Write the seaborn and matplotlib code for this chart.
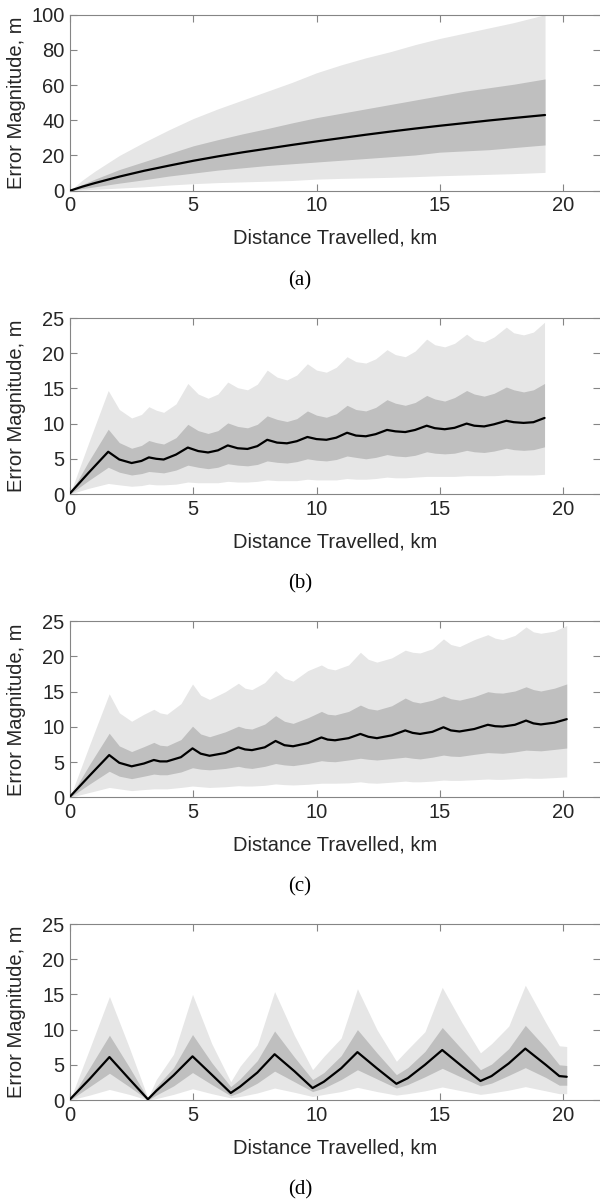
import numpy as np
import pandas as pd
import matplotlib
matplotlib.use("Agg")
import matplotlib.pyplot as plt
import seaborn as sns

# ---------------- data ----------------
# panel (a)
xa = [0, 0.5, 1, 2, 3, 4, 5, 6, 7, 8, 9, 10, 11, 12, 13, 14, 15, 16, 17, 18, 19.27]
a_mean = [0, 2.3, 4.3, 8.0, 11.3, 14.2, 17.0, 19.5, 21.8, 23.9, 26.0, 28.0, 29.9, 31.8, 33.6, 35.3, 36.9, 38.4, 39.9, 41.3, 43.0]
a_dark_hi = [0, 3.5, 6.5, 12.0, 16.5, 21.0, 25.5, 29.0, 32.3, 35.3, 38.5, 41.5, 44.0, 46.5, 49.0, 51.5, 54.0, 56.5, 58.5, 60.5, 63.5]
a_light_hi = [0, 6, 11, 20, 27.5, 34.5, 41, 46.5, 51.5, 56.5, 61.5, 67.0, 71.5, 75.5, 79, 83, 86.5, 89.5, 92.5, 95.5, 100]
a_dark_lo = [0, 1.2, 2.2, 4.3, 6.2, 8.3, 10.0, 11.7, 13.0, 14.3, 15.3, 16.3, 17.3, 18.3, 19.3, 20.3, 21.9, 22.6, 23.3, 24.5, 26.0]
a_light_lo = [0, 0.4, 0.8, 1.5, 2.2, 3.2, 4.0, 4.6, 5.0, 5.4, 5.8, 6.6, 7.0, 7.3, 7.6, 8.0, 8.5, 8.9, 9.3, 9.7, 10.4]

# panel (b)
xb = [0, 0.75, 1.55, 2.0, 2.5, 2.9, 3.2, 3.5, 3.8, 4.3, 4.78, 5.2, 5.6, 6.0, 6.4, 6.8, 7.2, 7.6,
      8.0, 8.4, 8.8, 9.2, 9.63, 10.0, 10.4, 10.8, 11.24, 11.6, 12.0, 12.4, 12.86, 13.2, 13.6, 14.0,
      14.47, 14.8, 15.2, 15.6, 16.09, 16.4, 16.8, 17.2, 17.7, 18.0, 18.4, 18.8, 19.25]
b_mean = [0.1, 3.0, 6.0, 4.9, 4.4, 4.7, 5.2, 5.0, 4.9, 5.6, 6.6, 6.1, 5.9, 6.2, 6.9, 6.5, 6.4, 6.8,
          7.7, 7.3, 7.2, 7.5, 8.1, 7.8, 7.7, 8.0, 8.7, 8.3, 8.2, 8.5, 9.1, 8.9, 8.8, 9.1,
          9.7, 9.35, 9.2, 9.4, 10.0, 9.7, 9.6, 9.9, 10.4, 10.2, 10.1, 10.2, 10.8]
b_light_hi = [0, 7.2, 14.7, 12.0, 10.8, 11.3, 12.4, 11.9, 11.6, 12.8, 15.7, 14.2, 13.6, 14.2, 15.9, 15.1, 14.8, 15.6,
              17.6, 16.6, 16.2, 16.9, 18.5, 17.6, 17.3, 18.0, 19.5, 18.8, 18.6, 19.2, 20.5, 19.8, 19.5, 20.3,
              22.0, 21.2, 20.9, 21.4, 22.7, 21.9, 21.6, 22.3, 23.7, 22.9, 22.6, 23.0, 24.4]
b_dark_hi = [0, 4.6, 9.2, 7.3, 6.5, 6.9, 7.6, 7.3, 7.1, 8.0, 9.9, 9.0, 8.6, 9.0, 10.1, 9.6, 9.4, 9.9,
             11.1, 10.6, 10.3, 10.7, 11.8, 11.2, 10.9, 11.4, 12.6, 12.0, 11.8, 12.3, 13.4, 12.9, 12.6, 13.0,
             14.0, 13.5, 13.2, 13.7, 14.7, 14.2, 13.9, 14.3, 15.2, 14.8, 14.5, 14.8, 15.7]
b_dark_lo = [0, 1.9, 3.8, 3.1, 2.7, 2.9, 3.2, 3.1, 3.0, 3.4, 4.1, 3.8, 3.6, 3.8, 4.3, 4.1, 4.0, 4.2,
             4.7, 4.5, 4.4, 4.6, 5.0, 4.8, 4.7, 4.9, 5.4, 5.2, 5.0, 5.2, 5.6, 5.4, 5.3, 5.5,
             6.0, 5.8, 5.7, 5.8, 6.2, 6.0, 5.9, 6.1, 6.5, 6.3, 6.2, 6.3, 6.7]
b_light_lo = [0, 0.8, 1.5, 1.3, 1.1, 1.2, 1.4, 1.3, 1.3, 1.4, 1.7, 1.6, 1.6, 1.6, 1.8, 1.7, 1.7, 1.8,
              2.0, 1.9, 1.9, 1.9, 2.1, 2.0, 2.0, 2.0, 2.2, 2.1, 2.1, 2.2, 2.4, 2.3, 2.3, 2.4,
              2.5, 2.5, 2.5, 2.5, 2.6, 2.6, 2.6, 2.6, 2.7, 2.7, 2.7, 2.7, 2.8]

# panel (c)
xc = [0, 0.8, 1.59, 2.0, 2.5, 3.0, 3.4, 3.65, 3.93, 4.5, 4.97, 5.3, 5.66, 6.3, 6.83, 7.1, 7.38, 7.9,
      8.34, 8.7, 9.05, 9.65, 10.2, 10.45, 10.75, 11.3, 11.78, 12.1, 12.45, 13.05, 13.6, 13.9, 14.2, 14.7,
      15.15, 15.45, 15.8, 16.4, 16.95, 17.25, 17.55, 18.05, 18.5, 18.8, 19.1, 19.65, 20.15]
c_mean = [0.1, 3.1, 6.0, 4.9, 4.4, 4.8, 5.3, 5.1, 5.1, 5.7, 6.95, 6.2, 5.9, 6.3, 7.1, 6.8, 6.7, 7.1,
          8.0, 7.4, 7.25, 7.7, 8.5, 8.2, 8.1, 8.4, 9.0, 8.6, 8.4, 8.8, 9.5, 9.15, 9.0, 9.3,
          9.95, 9.5, 9.35, 9.7, 10.3, 10.1, 10.05, 10.3, 10.9, 10.5, 10.35, 10.6, 11.1]
c_light_hi = [0, 7.5, 14.7, 12.0, 10.8, 11.8, 12.5, 12.0, 11.8, 13.3, 16.1, 14.5, 13.9, 15.0, 16.2, 15.5, 15.3, 16.3,
              18.0, 16.9, 16.5, 18.0, 18.8, 18.3, 18.1, 18.8, 20.6, 19.6, 19.2, 19.8, 20.9, 20.6, 20.5, 21.1,
              22.5, 21.7, 21.4, 22.4, 23.1, 22.6, 22.4, 23.0, 24.2, 23.5, 23.3, 23.6, 24.4]
c_dark_hi = [0, 4.7, 9.1, 7.3, 6.5, 7.2, 7.8, 7.4, 7.3, 8.2, 10.1, 9.0, 8.6, 9.3, 10.1, 9.8, 9.7, 10.4,
             11.6, 10.8, 10.5, 11.3, 12.2, 11.8, 11.7, 12.2, 13.1, 12.6, 12.4, 13.0, 14.1, 13.6, 13.4, 13.8,
             14.4, 14.0, 13.8, 14.3, 15.0, 14.85, 14.8, 15.1, 15.7, 15.3, 15.1, 15.5, 16.1]
c_dark_lo = [0, 1.9, 3.7, 3.0, 2.65, 3.0, 3.3, 3.2, 3.2, 3.6, 4.2, 4.0, 3.9, 4.1, 4.4, 4.2, 4.1, 4.4,
             4.8, 4.6, 4.5, 4.8, 5.2, 5.1, 5.05, 5.3, 5.55, 5.4, 5.3, 5.5, 5.7, 5.55, 5.45, 5.7,
             6.0, 5.85, 5.8, 6.1, 6.35, 6.3, 6.25, 6.45, 6.7, 6.65, 6.6, 6.8, 7.0]
c_light_lo = [0, 0.7, 1.4, 1.2, 0.95, 1.1, 1.2, 1.2, 1.2, 1.4, 1.6, 1.5, 1.4, 1.5, 1.65, 1.6, 1.6, 1.7,
              1.9, 1.8, 1.75, 1.85, 2.0, 2.0, 2.0, 2.05, 2.2, 2.05, 2.0, 2.15, 2.3, 2.2, 2.2, 2.3,
              2.45, 2.4, 2.4, 2.5, 2.6, 2.55, 2.55, 2.65, 2.75, 2.7, 2.7, 2.8, 2.9]

# panel (d)
xd = [0, 0.8, 1.6, 2.4, 3.16, 3.5, 4.2, 4.97, 5.75, 6.52, 6.9, 7.6, 8.3, 9.1, 9.84, 10.3, 11.0, 11.66,
      12.45, 13.24, 13.7, 14.4, 15.1, 15.9, 16.65, 17.1, 17.8, 18.47, 19.3, 19.85, 20.15]
d_mean = [0.1, 3.0, 6.1, 3.0, 0.1, 1.3, 3.5, 6.2, 3.6, 1.0, 1.9, 3.9, 6.5, 4.1, 1.7, 2.6, 4.5, 6.8,
          4.5, 2.3, 3.1, 5.0, 7.1, 4.8, 2.7, 3.4, 5.2, 7.3, 5.0, 3.4, 3.3]
d_light_hi = [0, 7.3, 14.7, 7.5, 0.3, 2.9, 6.5, 15.0, 8.0, 2.6, 4.8, 7.8, 15.4, 9.2, 4.3, 6.2, 8.8, 15.8,
              10.0, 5.5, 7.2, 9.7, 16.0, 11.0, 6.7, 8.0, 10.5, 16.3, 11.0, 7.7, 7.6]
d_dark_hi = [0, 4.6, 9.2, 4.7, 0.2, 1.9, 4.6, 9.3, 5.3, 1.9, 3.0, 5.6, 9.8, 6.1, 2.9, 3.9, 6.3, 10.0,
             6.7, 3.6, 4.6, 6.9, 10.3, 7.2, 4.3, 5.1, 7.3, 10.6, 7.4, 5.0, 4.9]
d_dark_lo = [0, 1.9, 3.8, 1.9, 0.0, 0.7, 2.0, 3.9, 2.2, 0.6, 1.1, 2.4, 4.1, 2.6, 1.2, 1.7, 2.9, 4.3,
             3.0, 1.7, 2.2, 3.3, 4.5, 3.2, 2.0, 2.4, 3.5, 4.6, 3.2, 2.1, 2.1]
d_light_lo = [0, 0.7, 1.5, 0.8, 0.0, 0.2, 0.8, 1.6, 0.9, 0.3, 0.5, 1.0, 1.7, 1.1, 0.5, 0.8, 1.2, 1.8,
              1.2, 0.7, 0.9, 1.3, 1.85, 1.3, 0.8, 1.0, 1.4, 1.9, 1.3, 0.9, 0.9]

captions = ["(a)", "(b)", "(c)", "(d)"]
x_label = "Distance Travelled, km"
y_label = "Error Magnitude, m"
x_ticks = [0, 5, 10, 15, 20]
y_ticks_a = [0, 20, 40, 60, 80, 100]
y_ticks_bcd = [0, 5, 10, 15, 20, 25]

# ---------------- style ----------------
sns.set_style("ticks")
plt.rcParams["font.family"] = ["Liberation Sans", "DejaVu Sans"]
plt.rcParams["font.size"] = 14.5

LIGHT = "#e6e6e6"
DARK = "#bfbfbf"
TEXT = "#262626"
SPINE = "#858585"
FS = 14.5

W, H = 600, 1201
fig = plt.figure(figsize=(W / 100, H / 100), dpi=100)

panels = [
    (xa, a_mean, a_dark_hi, a_light_hi, a_dark_lo, a_light_lo, y_ticks_a, 190.7),
    (xb, b_mean, b_dark_hi, b_light_hi, b_dark_lo, b_light_lo, y_ticks_bcd, 494.0),
    (xc, c_mean, c_dark_hi, c_light_hi, c_dark_lo, c_light_lo, y_ticks_bcd, 797.3),
    (xd, d_mean, d_dark_hi, d_light_hi, d_dark_lo, d_light_lo, y_ticks_bcd, 1100.0),
]

left_px, right_px, ax_h = 70, 600, 176
for i, (x, mean, dhi, lhi, dlo, llo, yt, bottom_px) in enumerate(panels):
    ax = fig.add_axes([left_px / W, 1 - bottom_px / H, (right_px - left_px) / W, ax_h / H])
    ax.fill_between(x, llo, lhi, color=LIGHT, lw=0, zorder=1)
    ax.fill_between(x, dlo, dhi, color=DARK, lw=0, zorder=2)
    df = pd.DataFrame({"x": x, "y": mean})
    sns.lineplot(data=df, x="x", y="y", ax=ax, color="black", lw=1.6, zorder=3)
    ax.set_xlim(0, 21.5)
    ax.set_ylim(yt[0], yt[-1])
    ax.set_xticks(x_ticks)
    ax.set_yticks(yt)
    ax.tick_params(direction="in", length=5, width=0.8, color=SPINE, labelcolor=TEXT,
                   labelsize=FS, top=True, right=True, pad=4)
    for s in ["left", "bottom", "top"]:
        ax.spines[s].set_color(SPINE)
        ax.spines[s].set_linewidth(0.8)
        ax.spines[s].set_visible(True)
    ax.spines["right"].set_visible(False)
    ax.set_xlabel(x_label, fontsize=FS, color=TEXT)
    ax.xaxis.set_label_coords(0.5, -38 / ax_h)
    ax.set_ylabel(y_label, fontsize=FS, color=TEXT)
    ax.yaxis.set_label_coords(-44 / (right_px - left_px), 0.5)
    fig.text(0.5, 1 - (bottom_px + 90) / H, captions[i], ha="center", va="center",
             fontsize=15, color="black", family=["Liberation Serif", "DejaVu Serif"])

fig.savefig("out.png", dpi=100)
